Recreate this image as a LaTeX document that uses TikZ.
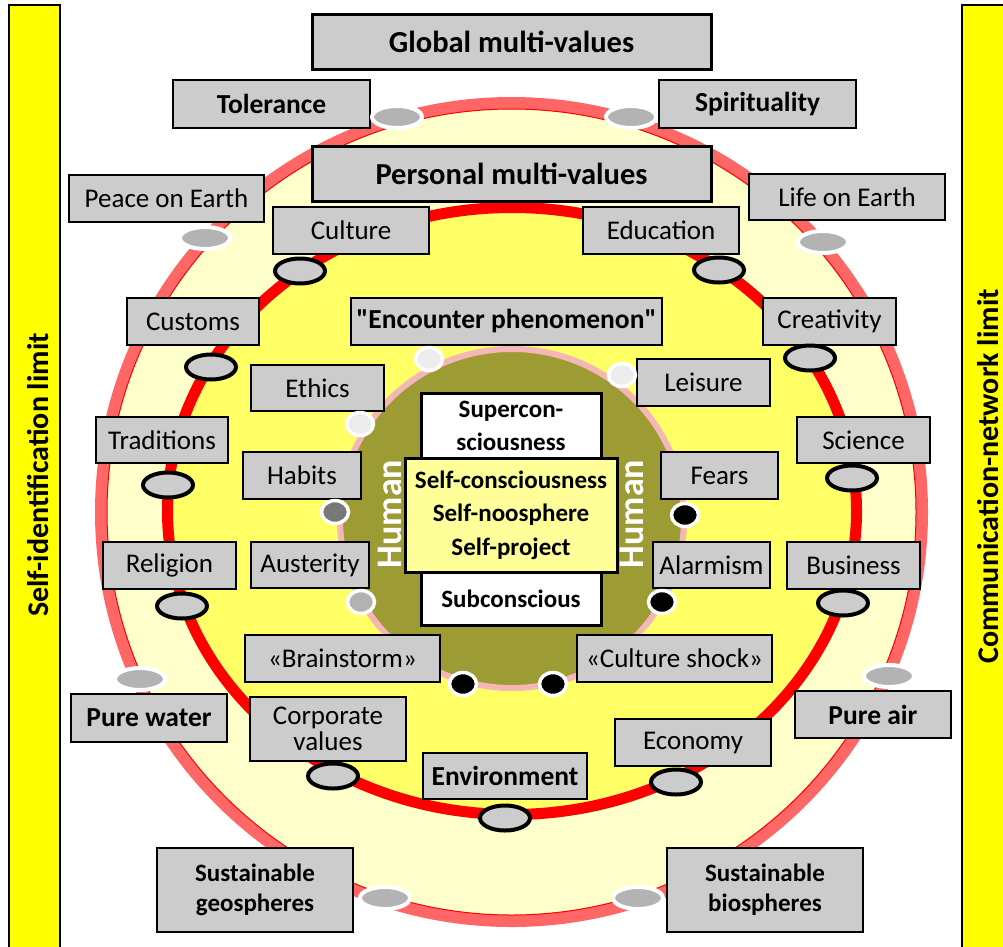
\documentclass[tikz,border=0pt]{standalone}
\usepackage{fontspec}
\setmainfont{Carlito}
\usetikzlibrary{calc}

\definecolor{paleyellow}{HTML}{FFFFCC}
\definecolor{ringyellow}{HTML}{FFFF66}
\definecolor{lightred}{HTML}{FF6666}
\definecolor{olive}{HTML}{9D9B34}
\definecolor{pinkring}{HTML}{F4B6B6}
\definecolor{boxgray}{HTML}{CCCCCC}
\definecolor{markgray}{HTML}{B3B3B3}
\definecolor{selfyellow}{HTML}{FFFF99}
\definecolor{baryellow}{HTML}{FFFF00}

\def\outermark(#1,#2){\draw[line width=4, draw=white, fill=markgray] (#1,#2) ellipse (25 and 11);}
\def\redmark(#1,#2){\draw[line width=4, draw=black, fill=boxgray] (#1,#2) ellipse (25 and 12.5);}
\def\innermark[#1](#2,#3){\draw[line width=3.5, draw=white, fill=#1] (#2,#3) ellipse (13.5 and 11.5);}
\def\straightquote{{\addfontfeatures{Ligatures=TeXOff}"}}

\begin{document}
\begin{tikzpicture}[x=1pt, y=-1pt,
	valbox/.style={draw=black, fill=boxgray, line width=2, inner sep=0pt, align=center},
	big/.style={font=\bfseries\fontsize{30.5}{32}\selectfont},
	reg/.style={font=\fontsize{27}{26}\selectfont},
	bld/.style={font=\bfseries\fontsize{27.5}{28}\selectfont},
	sust/.style={font=\bfseries\fontsize{25}{30}\selectfont}]
		%%%%% START %%%%%
		
		\fill[white] (0,0) rectangle (1003,946);
		\useasboundingbox (0,0) rectangle (1003,946);
		
		% limits
		\draw[line width=2.5, fill=baryellow] (9,5) rectangle (60,960);
		\draw[line width=2.5, fill=baryellow] (962,5) rectangle (1015,960);
		\node[rotate=90, anchor=base, inner sep=0pt, font=\bfseries\fontsize{30}{30}\selectfont] (selfid) at (48,475) {Self-identification limit};
		\node[rotate=90, anchor=base, inner sep=0pt, font=\bfseries\fontsize{30}{30}\selectfont] (commnet) at (998,476.5) {Communication-network limit};
		
		% rings
		\draw[line width=12, draw=lightred, fill=paleyellow] (511.5,512) ellipse (410.5 and 409);
		\draw[line width=1, draw=red] (511.5,512) ellipse (404.5 and 403);
		\draw[line width=11, draw=red, fill=ringyellow] (512,511) ellipse (344.5 and 303.5);
		\draw[line width=6, draw=pinkring, fill=olive] (512,518.5) ellipse (172 and 169.5);
		
		% core
		\node[draw=black, fill=white, line width=3, minimum width=180, minimum height=65, inner sep=0pt, align=center, font=\bfseries\fontsize{25}{33}\selectfont] (supercon) at (511,425.5) {Supercon-\\sciousness};
		\node[draw=black, fill=white, line width=3, minimum width=180, minimum height=53, inner sep=0pt, font=\bfseries\fontsize{25}{33}\selectfont] (subconscious) at (511,598.5) {Subconscious};
		\node[draw=black, fill=selfyellow, line width=3, minimum width=212, minimum height=114, inner sep=0pt, align=center, font=\bfseries\fontsize{25}{33.5}\selectfont] (selfbox) at (511,515) {Self-consciousness\\Self-noosphere\\Self-project};
		\node[rotate=90, anchor=base, inner sep=0pt, text=white, font=\bfseries\fontsize{36}{36}\selectfont] (humanleft) at (401,514) {Human};
		\node[rotate=90, anchor=base, inner sep=0pt, text=white, font=\bfseries\fontsize{36}{36}\selectfont] (humanright) at (643,514) {Human};
		
		% values
		\node[valbox, big, line width=3, minimum width=399, minimum height=55] (global) at (511.5,41.5) {Global multi-values};
		\node[valbox, bld, minimum width=197, minimum height=48] (tolerance) at (271.5,104) {Tolerance};
		\node[valbox, bld, minimum width=197, minimum height=48] (spirituality) at (757.5,104) {Spirituality};
		\node[valbox, big, line width=3, minimum width=399, minimum height=55] (personal) at (511.5,173.5) {Personal multi-values};
		\node[valbox, reg, minimum width=195, minimum height=47] (peace) at (166.5,198.5) {Peace on Earth};
		\node[valbox, reg, minimum width=196, minimum height=46] (life) at (847,197) {Life on Earth};
		\node[valbox, reg, minimum width=156, minimum height=47] (culture) at (351,230.5) {Culture};
		\node[valbox, reg, minimum width=156, minimum height=47] (education) at (661,230.5) {Education};
		\node[valbox, reg, minimum width=132, minimum height=47] (customs) at (193,321.5) {Customs};
		\node[valbox, bld, minimum width=311, minimum height=47] (encounter) at (506.5,321.5) {\straightquote Encounter phenomenon\straightquote};
		\node[valbox, reg, minimum width=133, minimum height=47] (creativity) at (829.5,321.5) {Creativity};
		\node[valbox, reg, minimum width=133, minimum height=46] (ethics) at (317.5,388) {Ethics};
		\node[valbox, reg, minimum width=133, minimum height=47] (leisure) at (703.5,382.5) {Leisure};
		\node[valbox, reg, minimum width=132, minimum height=46] (traditions) at (162,440) {Traditions};
		\node[valbox, reg, minimum width=133, minimum height=46] (science) at (863.5,440) {Science};
		\node[valbox, reg, minimum width=118, minimum height=47] (habits) at (302,475.5) {Habits};
		\node[valbox, reg, minimum width=117, minimum height=47] (fears) at (719.5,475.5) {Fears};
		\node[valbox, reg, minimum width=133, minimum height=47] (religion) at (169.5,565.5) {Religion};
		\node[valbox, reg, minimum width=118, minimum height=46] (austerity) at (310,565) {Austerity};
		\node[valbox, reg, minimum width=117, minimum height=46] (alarmism) at (711.5,565) {Alarmism};
		\node[valbox, reg, minimum width=133, minimum height=47] (business) at (853.5,565.5) {Business};
		\node[valbox, reg, minimum width=195, minimum height=47] (brainstorm) at (342.5,658.5) {«Brainstorm»};
		\node[valbox, reg, minimum width=195, minimum height=47] (shock) at (674.5,658.5) {«Culture shock»};
		\node[valbox, bld, minimum width=156, minimum height=48] (water) at (149,718) {Pure water};
		\node[valbox, bld, minimum width=156, minimum height=47] (air) at (873,714.5) {Pure air};
		\node[valbox, reg, minimum width=156, minimum height=64] (corporate) at (328,729) {Corporate\\values};
		\node[valbox, reg, minimum width=156, minimum height=47] (economy) at (693,742.5) {Economy};
		\node[valbox, bld, minimum width=164, minimum height=46] (environment) at (505,776) {Environment};
		\node[valbox, sust, minimum width=196, minimum height=84] (geo) at (255,890) {Sustainable\\geospheres};
		\node[valbox, sust, minimum width=196, minimum height=84] (bio) at (765,890) {Sustainable\\biospheres};
		
		% outer ring marks
		\outermark(397,117)
		\outermark(631,117)
		\outermark(205,238)
		\outermark(823,242)
		\outermark(140,679)
		\outermark(889,676)
		\outermark(385,898)
		\outermark(638,898)
		
		% red ring marks
		\redmark(300,271)
		\redmark(719,270)
		\redmark(211,367)
		\redmark(810,358)
		\redmark(168,485)
		\redmark(852,478)
		\redmark(182,606)
		\redmark(843,603)
		\redmark(333,776)
		\redmark(676,782)
		\redmark(505,818)
		
		% inner ring marks
		\innermark[black!7](429,359)
		\innermark[black!7](622,375)
		\innermark[black!7](360,424)
		\innermark[black!53](335,512)
		\innermark[black](685,515)
		\innermark[black!30](361,602)
		\innermark[black](662,602)
		\innermark[black](463,684)
		\innermark[black](553,684)
		
		%%%%% END %%%%%
	\end{tikzpicture}
\end{document}
